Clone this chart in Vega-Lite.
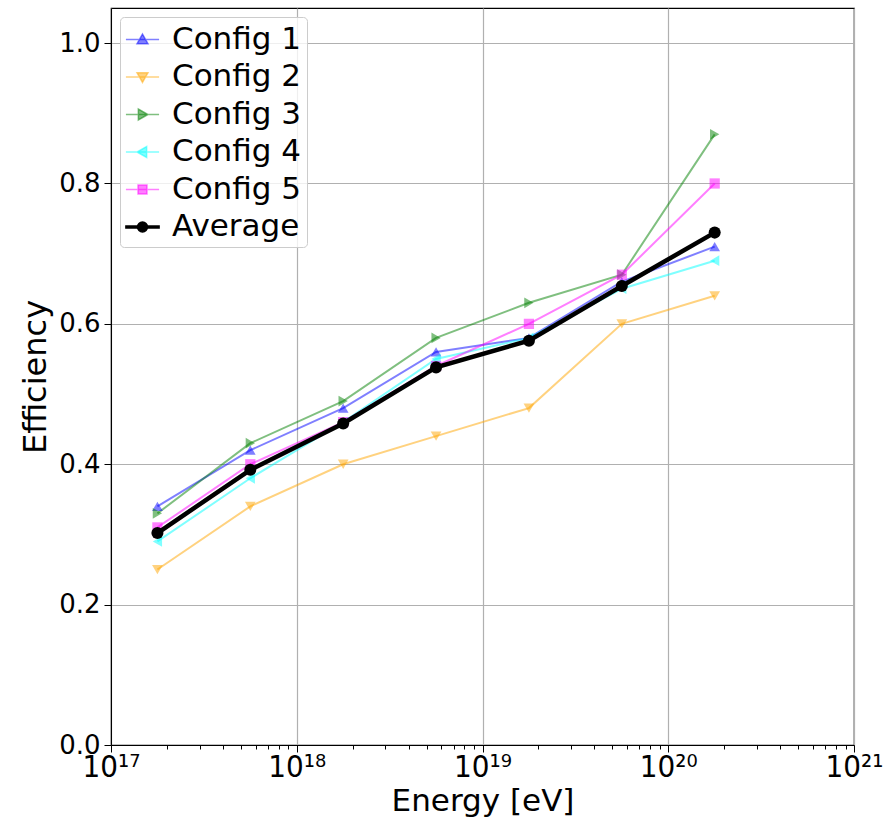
{
  "$schema": "https://vega.github.io/schema/vega-lite/v6.json",
  "width": 743,
  "height": 737,
  "autosize": "none",
  "padding": {"left": 111, "top": 8, "right": 37, "bottom": 79},
  "background": "white",
  "config": {
    "font": "DejaVu Sans",
    "view": {"stroke": "black", "strokeWidth": 1.2},
    "axis": {
      "labelFont": "DejaVu Sans",
      "titleFont": "DejaVu Sans",
      "labelColor": "black",
      "titleColor": "black",
      "labelFontSize": 26,
      "titleFontSize": 31,
      "titleFontWeight": "normal",
      "domainColor": "black",
      "tickColor": "black",
      "gridColor": "#b0b0b0",
      "gridWidth": 1.2
    },
    "legend": {
      "orient": "top-left",
      "offset": 9,
      "padding": 5,
      "labelFont": "DejaVu Sans",
      "labelFontSize": 31,
      "labelColor": "black",
      "labelOffset": 12,
      "symbolSize": 1100,
      "symbolOpacity": 1,
      "rowPadding": 4.5,
      "strokeColor": "#cccccc",
      "fillColor": "rgba(255,255,255,0.8)",
      "cornerRadius": 4
    }
  },
  "data": {
    "values": [
      {"energy": 1.778e17, "eff": 0.34, "series": "Config 1"},
      {"energy": 5.623e17, "eff": 0.42, "series": "Config 1"},
      {"energy": 1.778e18, "eff": 0.48, "series": "Config 1"},
      {"energy": 5.623e18, "eff": 0.56, "series": "Config 1"},
      {"energy": 1.778e19, "eff": 0.58, "series": "Config 1"},
      {"energy": 5.623e19, "eff": 0.66, "series": "Config 1"},
      {"energy": 1.778e20, "eff": 0.71, "series": "Config 1"},
      {"energy": 1.778e17, "eff": 0.25, "series": "Config 2"},
      {"energy": 5.623e17, "eff": 0.34, "series": "Config 2"},
      {"energy": 1.778e18, "eff": 0.40, "series": "Config 2"},
      {"energy": 5.623e18, "eff": 0.44, "series": "Config 2"},
      {"energy": 1.778e19, "eff": 0.48, "series": "Config 2"},
      {"energy": 5.623e19, "eff": 0.60, "series": "Config 2"},
      {"energy": 1.778e20, "eff": 0.64, "series": "Config 2"},
      {"energy": 1.778e17, "eff": 0.33, "series": "Config 3"},
      {"energy": 5.623e17, "eff": 0.43, "series": "Config 3"},
      {"energy": 1.778e18, "eff": 0.49, "series": "Config 3"},
      {"energy": 5.623e18, "eff": 0.58, "series": "Config 3"},
      {"energy": 1.778e19, "eff": 0.63, "series": "Config 3"},
      {"energy": 5.623e19, "eff": 0.67, "series": "Config 3"},
      {"energy": 1.778e20, "eff": 0.87, "series": "Config 3"},
      {"energy": 1.778e17, "eff": 0.29, "series": "Config 4"},
      {"energy": 5.623e17, "eff": 0.38, "series": "Config 4"},
      {"energy": 1.778e18, "eff": 0.46, "series": "Config 4"},
      {"energy": 5.623e18, "eff": 0.55, "series": "Config 4"},
      {"energy": 1.778e19, "eff": 0.58, "series": "Config 4"},
      {"energy": 5.623e19, "eff": 0.65, "series": "Config 4"},
      {"energy": 1.778e20, "eff": 0.69, "series": "Config 4"},
      {"energy": 1.778e17, "eff": 0.31, "series": "Config 5"},
      {"energy": 5.623e17, "eff": 0.40, "series": "Config 5"},
      {"energy": 1.778e18, "eff": 0.46, "series": "Config 5"},
      {"energy": 5.623e18, "eff": 0.54, "series": "Config 5"},
      {"energy": 1.778e19, "eff": 0.60, "series": "Config 5"},
      {"energy": 5.623e19, "eff": 0.67, "series": "Config 5"},
      {"energy": 1.778e20, "eff": 0.80, "series": "Config 5"},
      {"energy": 1.778e17, "eff": 0.302, "series": "Average"},
      {"energy": 5.623e17, "eff": 0.392, "series": "Average"},
      {"energy": 1.778e18, "eff": 0.458, "series": "Average"},
      {"energy": 5.623e18, "eff": 0.538, "series": "Average"},
      {"energy": 1.778e19, "eff": 0.576, "series": "Average"},
      {"energy": 5.623e19, "eff": 0.654, "series": "Average"},
      {"energy": 1.778e20, "eff": 0.730, "series": "Average"}
    ]
  },
  "encoding": {
    "x": {
      "field": "energy",
      "type": "quantitative",
      "scale": {"type": "log", "domain": [1e17, 1e21], "nice": false},
      "axis": {
        "title": "Energy [eV]",
        "titlePadding": 4,
        "labelFont": "DejaVu Sans Condensed",
        "labelFontSize": 31,
        "values": [1e17, 2e17, 3e17, 4e17, 5e17, 6e17, 7e17, 8e17, 9e17,
                   1e18, 2e18, 3e18, 4e18, 5e18, 6e18, 7e18, 8e18, 9e18,
                   1e19, 2e19, 3e19, 4e19, 5e19, 6e19, 7e19, 8e19, 9e19,
                   1e20, 2e20, 3e20, 4e20, 5e20, 6e20, 7e20, 8e20, 9e20, 1e21],
        "labelExpr": "datum.value == 1e17 ? '10¹⁷' : datum.value == 1e18 ? '10¹⁸' : datum.value == 1e19 ? '10¹⁹' : datum.value == 1e20 ? '10²⁰' : datum.value == 1e21 ? '10²¹' : ''",
        "labelOverlap": false,
        "labelFlush": false,
        "labelPadding": 0,
        "tickSize": {"condition": {"test": "indexof([1e17,1e18,1e19,1e20,1e21], datum.value) >= 0", "value": 7}, "value": 4},
        "gridOpacity": {"condition": {"test": "indexof([1e17,1e18,1e19,1e20,1e21], datum.value) >= 0", "value": 1}, "value": 0}
      }
    },
    "y": {
      "field": "eff",
      "type": "quantitative",
      "scale": {"domain": [0, 1.05], "nice": false, "zero": true},
      "axis": {
        "title": "Efficiency",
        "titleFontSize": 32,
        "values": [0, 0.2, 0.4, 0.6, 0.8, 1.0],
        "format": ".1f",
        "tickSize": 7,
        "labelPadding": 4,
        "titlePadding": 6,
        "labelFlush": false
      }
    }
  },
  "layer": [
    {
      "transform": [{"filter": "false"}],
      "mark": {"type": "point", "filled": true},
      "encoding": {
        "color": {
          "field": "series",
          "type": "nominal",
          "scale": {
            "domain": ["Config 1", "Config 2", "Config 3", "Config 4", "Config 5", "Average"],
            "range": ["rgba(0,0,255,0.5)", "rgba(255,165,0,0.5)", "rgba(0,128,0,0.5)", "rgba(0,255,255,0.5)", "rgba(255,0,255,0.5)", "#000000"]
          },
          "legend": {"title": null, "orient": "top-left"}
        },
        "stroke": {
          "field": "series",
          "type": "nominal",
          "scale": {
            "domain": ["Config 1", "Config 2", "Config 3", "Config 4", "Config 5", "Average"],
            "range": ["rgba(0,0,255,0.5)", "rgba(255,165,0,0.5)", "rgba(0,128,0,0.5)", "rgba(0,255,255,0.5)", "rgba(255,0,255,0.5)", "#000000"]
          }
        },
        "shape": {
          "field": "series",
          "type": "nominal",
          "scale": {
            "domain": ["Config 1", "Config 2", "Config 3", "Config 4", "Config 5", "Average"],
            "range": [
              "M-1,0H1M0,-0.33L0.33,0.25L-0.33,0.25Z",
              "M-1,0H1M0,0.33L0.33,-0.25L-0.33,-0.25Z",
              "M-1,0H1M0.33,0L-0.25,0.33L-0.25,-0.33Z",
              "M-1,0H1M-0.33,0L0.25,0.33L0.25,-0.33Z",
              "M-1,0H1M-0.27,-0.27H0.27V0.27H-0.27Z",
              "M-1,-0.06H1V0.06H-1ZM0.3,0A0.3,0.3,0,1,1,-0.3,0A0.3,0.3,0,1,1,0.3,0Z"
            ]
          }
        }
      }
    },
    {
      "transform": [{"filter": "datum.series !== 'Average'"}],
      "mark": {"type": "line", "strokeWidth": 2},
      "encoding": {
        "color": {"field": "series", "type": "nominal", "legend": null}
      }
    },
    {
      "transform": [{"filter": "datum.series === 'Config 1'"}],
      "mark": {"type": "point", "filled": true, "opacity": 1, "size": 115, "shape": "triangle-up"},
      "encoding": {"color": {"field": "series", "type": "nominal", "legend": null}}
    },
    {
      "transform": [{"filter": "datum.series === 'Config 2'"}],
      "mark": {"type": "point", "filled": true, "opacity": 1, "size": 115, "shape": "triangle-down"},
      "encoding": {"color": {"field": "series", "type": "nominal", "legend": null}}
    },
    {
      "transform": [{"filter": "datum.series === 'Config 3'"}],
      "mark": {"type": "point", "filled": true, "opacity": 1, "size": 115, "shape": "triangle-right"},
      "encoding": {"color": {"field": "series", "type": "nominal", "legend": null}}
    },
    {
      "transform": [{"filter": "datum.series === 'Config 4'"}],
      "mark": {"type": "point", "filled": true, "opacity": 1, "size": 115, "shape": "triangle-left"},
      "encoding": {"color": {"field": "series", "type": "nominal", "legend": null}}
    },
    {
      "transform": [{"filter": "datum.series === 'Config 5'"}],
      "mark": {"type": "point", "filled": true, "opacity": 1, "size": 105, "shape": "square"},
      "encoding": {"color": {"field": "series", "type": "nominal", "legend": null}}
    },
    {
      "transform": [{"filter": "datum.series === 'Average'"}],
      "mark": {"type": "line", "strokeWidth": 4.5, "color": "black"},
      "encoding": {}
    },
    {
      "transform": [{"filter": "datum.series === 'Average'"}],
      "mark": {"type": "point", "filled": true, "opacity": 1, "size": 145, "shape": "circle", "color": "black"},
      "encoding": {}
    }
  ]
}
